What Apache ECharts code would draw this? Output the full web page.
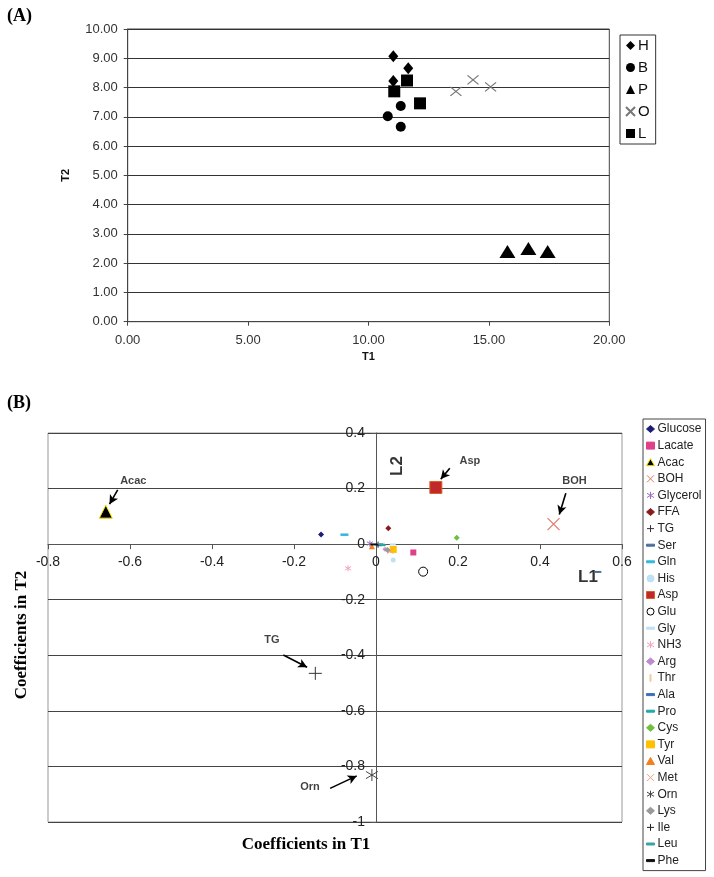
<!DOCTYPE html>
<html><head><meta charset="utf-8">
<script src="https://cdn.jsdelivr.net/npm/echarts@6/dist/echarts.min.js"></script>
<style>html,body{margin:0;padding:0;background:#fff}#c{width:714px;height:877px}</style>
</head><body><div id="c"></div>
<script>
// ---------- Panel A data (T1, T2 scores) ----------
const groupNames = ['H', 'B', 'P', 'O', 'L'];
const groupH = [[11.03, 9.07], [11.65, 8.66], [11.03, 8.22]];
const groupB = [[11.34, 7.37], [10.80, 7.02], [11.34, 6.66]];
const groupP = [[15.77, 2.40], [16.64, 2.50], [17.44, 2.40]];
const groupO = [[13.63, 7.87], [14.34, 8.26], [15.07, 8.02]];
const groupL = [[11.60, 8.24], [11.07, 7.87], [12.14, 7.46]];
const groupData = [groupH, groupB, groupP, groupO, groupL];

// ---------- Panel B data (coefficients) ----------
const metabolites = ['Glucose','Lacate','Acac','BOH','Glycerol','FFA','TG','Ser','Gln','His','Asp','Glu','Gly','NH3','Arg','Thr','Ala','Pro','Cys','Tyr','Val','Met','Orn','Lys','Ile','Leu','Phe'];
const coefT1 = [-0.134, 0.091, -0.659, 0.433, -0.015, 0.030, -0.148, 0.541, -0.077, 0.042, 0.146, 0.115, 0.041, -0.068, 0.022, 0.020, 0.008, 0.015, 0.197, 0.042, -0.010, 0.035, -0.010, 0.028, 0.005, 0.012, -0.005];
const coefT2 = [0.035, -0.030, 0.117, 0.072, 0.002, 0.057, -0.465, -0.100, 0.034, -0.057, 0.204, -0.099, -0.001, -0.087, -0.018, -0.005, -0.004, -0.003, 0.023, -0.019, -0.008, -0.024, -0.831, -0.021, -0.002, 0.000, -0.001];

// annotations (data coordinates)
const annotNames = ['Acac', 'Asp', 'BOH', 'TG', 'Orn'];
const annotLabelAt = [[-0.592, 0.228], [0.229, 0.300], [0.484, 0.227], [-0.254, -0.345], [-0.161, -0.875]];
const arrowFrom = [[-0.630, 0.195], [0.180, 0.273], [0.463, 0.183], [-0.226, -0.399], [-0.112, -0.879]];
const arrowTo = [[-0.650, 0.144], [0.158, 0.234], [0.447, 0.107], [-0.168, -0.443], [-0.047, -0.834]];
const axisTagNames = ['L2', 'L1'];
const axisTagAt = [[0.051, 0.281], [0.517, -0.118]];

// ---------- styles ----------
const P_CROSS = 'path://M0,0L10,10M10,0L0,10';
const P_PLUS = 'path://M5,0L5,10M0,5L10,5';
const P_STAR = 'path://M5,0L5,10M0,2L10,8M10,2L0,8';
const P_DASH = 'path://M0,0L10,0L10,2.5L0,2.5Z';
const P_VBAR = 'path://M0,0L1.5,0L1.5,10L0,10Z';

const groupStyle = {
  H: {symbol: 'diamond', size: [10, 12], color: '#000', border: '#000', bw: 0},
  B: {symbol: 'circle', size: 10, color: '#000', border: '#000', bw: 0},
  P: {symbol: 'triangle', size: [16, 13], color: '#000', border: '#000', bw: 0},
  O: {symbol: P_CROSS, size: [11, 9], color: '#777', border: '#777', bw: 1.1},
  L: {symbol: 'rect', size: 12, color: '#000', border: '#000', bw: 0}
};

const metStyle = {
  Glucose: {symbol: 'diamond', size: 6, color: '#1c1c7a'},
  Lacate: {symbol: 'rect', size: 6, color: '#e0408a'},
  Acac: {symbol: 'triangle', size: 13, color: '#000', border: '#f2e600', bw: 1},
  BOH: {symbol: P_CROSS, size: 12, color: '#e07a6a', border: '#e07a6a', bw: 1.2},
  Glycerol: {symbol: P_STAR, size: 6, color: '#9a6ac8', border: '#9a6ac8', bw: 1},
  FFA: {symbol: 'diamond', size: 6, color: '#8b1a1a'},
  TG: {symbol: P_PLUS, size: 13, color: '#333', border: '#333', bw: 1},
  Ser: {symbol: P_DASH, size: [7, 2], color: '#4a6e9a'},
  Gln: {symbol: P_DASH, size: [8, 2.5], color: '#33b8dd'},
  His: {symbol: 'circle', size: 5, color: '#bfe0f5'},
  Asp: {symbol: 'rect', size: 12, color: '#c0282a', border: '#d8602a', bw: 1},
  Glu: {symbol: 'circle', size: 9, color: '#fff', border: '#000', bw: 1},
  Gly: {symbol: P_DASH, size: [6, 2], color: '#bfe0f5'},
  NH3: {symbol: P_STAR, size: 6, color: '#f4a0c0', border: '#f4a0c0', bw: 1},
  Arg: {symbol: 'diamond', size: 5, color: '#c08ad0'},
  Thr: {symbol: P_VBAR, size: [1, 6], color: '#f5c9a0'},
  Ala: {symbol: P_DASH, size: [6, 2], color: '#3a70c0'},
  Pro: {symbol: P_DASH, size: [7, 2], color: '#20a8a8'},
  Cys: {symbol: 'diamond', size: 6, color: '#70c040'},
  Tyr: {symbol: 'rect', size: 7, color: '#ffc000'},
  Val: {symbol: 'triangle', size: 6, color: '#f08020'},
  Met: {symbol: P_CROSS, size: 6, color: '#f0a080', border: '#f0a080', bw: 1},
  Orn: {symbol: P_STAR, size: 12, color: '#444', border: '#444', bw: 1},
  Lys: {symbol: 'diamond', size: 6, color: '#999'},
  Ile: {symbol: P_PLUS, size: 6, color: '#222', border: '#222', bw: 1},
  Leu: {symbol: P_DASH, size: [5, 2], color: '#40a0a8'},
  Phe: {symbol: P_DASH, size: [7, 2], color: '#111'}
};

const FONT = 'Liberation Sans, Arial, sans-serif';
const SERIF = 'Liberation Serif, Times New Roman, serif';

const series = [];
groupNames.forEach((g, i) => {
  const s = groupStyle[g];
  series.push({
    name: g, type: 'scatter', xAxisIndex: 0, yAxisIndex: 0,
    symbol: s.symbol, symbolSize: s.size,
    itemStyle: {color: s.color, borderColor: s.border, borderWidth: s.bw, opacity: 1},
    data: groupData[i]
  });
});
metabolites.forEach((m, i) => {
  const s = metStyle[m];
  series.push({
    name: m, type: 'scatter', xAxisIndex: 1, yAxisIndex: 1,
    symbol: s.symbol, symbolSize: s.size, z: m === 'Acac' || m === 'Asp' || m === 'BOH' ? 4 : 3,
    itemStyle: {color: s.color, borderColor: s.border || s.color, borderWidth: s.bw || 0, opacity: 1},
    data: [[coefT1[i], coefT2[i]]]
  });
});
series.push({
  name: '_annot', type: 'scatter', xAxisIndex: 1, yAxisIndex: 1, symbolSize: 0, silent: true,
  label: {show: true, position: 'inside', color: '#111', fontFamily: FONT, fontWeight: 'bold', fontSize: 11,
          formatter: p => p.name},
  data: annotNames.map((n, i) => ({name: n, value: annotLabelAt[i]})),
  markLine: {
    silent: true, symbol: ['none', 'arrow'], symbolSize: [7, 9],
    lineStyle: {color: '#000', width: 1.6, type: 'solid'},
    label: {show: false},
    data: annotNames.map((n, i) => [{coord: arrowFrom[i]}, {coord: arrowTo[i]}])
  }
});
series.push({
  name: '_axisTags', type: 'scatter', xAxisIndex: 1, yAxisIndex: 1, symbolSize: 0, silent: true,
  label: {show: true, position: 'inside', color: '#000', fontFamily: FONT, fontWeight: 'bold', fontSize: 17,
          formatter: p => p.name},
  data: axisTagNames.map((n, i) => ({name: n, value: axisTagAt[i], label: {rotate: n === 'L2' ? 90 : 0}}))
});

const legendIconB = m => {
  const s = metStyle[m].symbol;
  return (typeof s === 'string') ? s : 'rect';
};

const chart = echarts.init(document.getElementById('c'), null, {renderer: 'canvas'});
const bLabelFmt = v => (Math.abs(v) < 1e-9 ? '0' : String(+v.toFixed(1)));
chart.setOption({
  animation: false,
  backgroundColor: '#fff',
  grid: [
    {left: 127.7, top: 29, width: 481.6, height: 292.7, show: true, borderColor: '#444', borderWidth: 1},
    {left: 48, top: 433, width: 574, height: 389, show: true, borderColor: '#999', borderWidth: 1}
  ],
  xAxis: [
    {type: 'value', gridIndex: 0, min: 0, max: 20, interval: 5,
     name: 'T1', nameLocation: 'middle', nameGap: 30,
     nameTextStyle: {fontFamily: FONT, fontWeight: 'bold', fontSize: 11, color: '#111'},
     axisLine: {lineStyle: {color: '#444', width: 1}},
     axisTick: {show: true, length: 4, lineStyle: {color: '#444'}},
     axisLabel: {fontFamily: FONT, fontSize: 13, color: '#333', margin: 12, formatter: v => v.toFixed(2)},
     splitLine: {show: false}},
    {type: 'value', gridIndex: 1, min: -0.8, max: 0.6, interval: 0.2, position: 'bottom', offset: 0,
     axisLine: {onZero: false, lineStyle: {color: '#555', width: 1}},
     axisTick: {show: true, length: 5, lineStyle: {color: '#555'}},
     axisLabel: {fontFamily: FONT, fontSize: 14, color: '#222', margin: 11, formatter: bLabelFmt},
     splitLine: {show: false}}
  ],
  yAxis: [
    {type: 'value', gridIndex: 0, min: 0, max: 10, interval: 1,
     name: 'T2', nameLocation: 'middle', nameGap: 56, nameRotate: 90,
     nameTextStyle: {fontFamily: FONT, fontWeight: 'bold', fontSize: 11, color: '#111'},
     axisLine: {lineStyle: {color: '#444', width: 1}},
     axisTick: {show: true, length: 4, lineStyle: {color: '#444'}},
     axisLabel: {fontFamily: FONT, fontSize: 13, color: '#333', margin: 10, formatter: v => v.toFixed(2)},
     splitLine: {show: true, lineStyle: {color: '#333', width: 1}}},
    {type: 'value', gridIndex: 1, min: -1, max: 0.4, interval: 0.2, position: 'left', offset: 0,
     axisLine: {onZero: false, lineStyle: {color: '#555', width: 1}},
     axisTick: {show: true, length: 5, lineStyle: {color: '#555'}},
     axisLabel: {fontFamily: FONT, fontSize: 14, color: '#222', margin: 11, formatter: bLabelFmt},
     splitLine: {show: true, lineStyle: {color: '#444', width: 1}}}
  ],
  legend: [
    {data: groupNames, orient: 'vertical', left: 620, top: 35, itemWidth: 9, itemHeight: 9, itemGap: 7,
     padding: [3, 6, 3, 5], borderColor: '#333', borderWidth: 1, selectedMode: false,
     textStyle: {fontFamily: FONT, fontSize: 15, color: '#111', padding: [0, 0, 0, -2]}},
    {data: metabolites.map(m => ({name: m, icon: legendIconB(m)})), orient: 'vertical', left: 643, top: 419,
     itemWidth: 8, itemHeight: 7, itemGap: 4.6,
     padding: [4, 4, 4, 3], borderColor: '#444', borderWidth: 1, selectedMode: false,
     itemStyle: {borderWidth: 1},
     textStyle: {fontFamily: FONT, fontSize: 12, color: '#222', padding: [0, 0, 0, -2]}}
  ],
  graphic: [
    {type: 'text', left: 7, top: 7, style: {text: '(A)', font: 'bold 18px ' + SERIF, fill: '#000'}},
    {type: 'text', left: 7, top: 394, style: {text: '(B)', font: 'bold 18px ' + SERIF, fill: '#000'}},
    {type: 'text', x: 22, y: 635, rotation: Math.PI / 2,
     style: {text: 'Coefficients in T2', font: 'bold 17px ' + SERIF, fill: '#000', align: 'center', verticalAlign: 'middle'}},
    {type: 'text', x: 306, y: 845,
     style: {text: 'Coefficients in T1', font: 'bold 17px ' + SERIF, fill: '#000', align: 'center', verticalAlign: 'middle'}}
  ],
  series: series
});

// Place panel B axes through the origin (using the library's own scale conversion).
const origin = chart.convertToPixel({xAxisIndex: 1, yAxisIndex: 1}, [0, 0]);
const corner = chart.convertToPixel({xAxisIndex: 1, yAxisIndex: 1}, [-0.8, -1]);
chart.setOption({
  xAxis: [{}, {offset: -(corner[1] - origin[1])}],
  yAxis: [{}, {offset: -(origin[0] - corner[0])}]
});
</script>
</body></html>
